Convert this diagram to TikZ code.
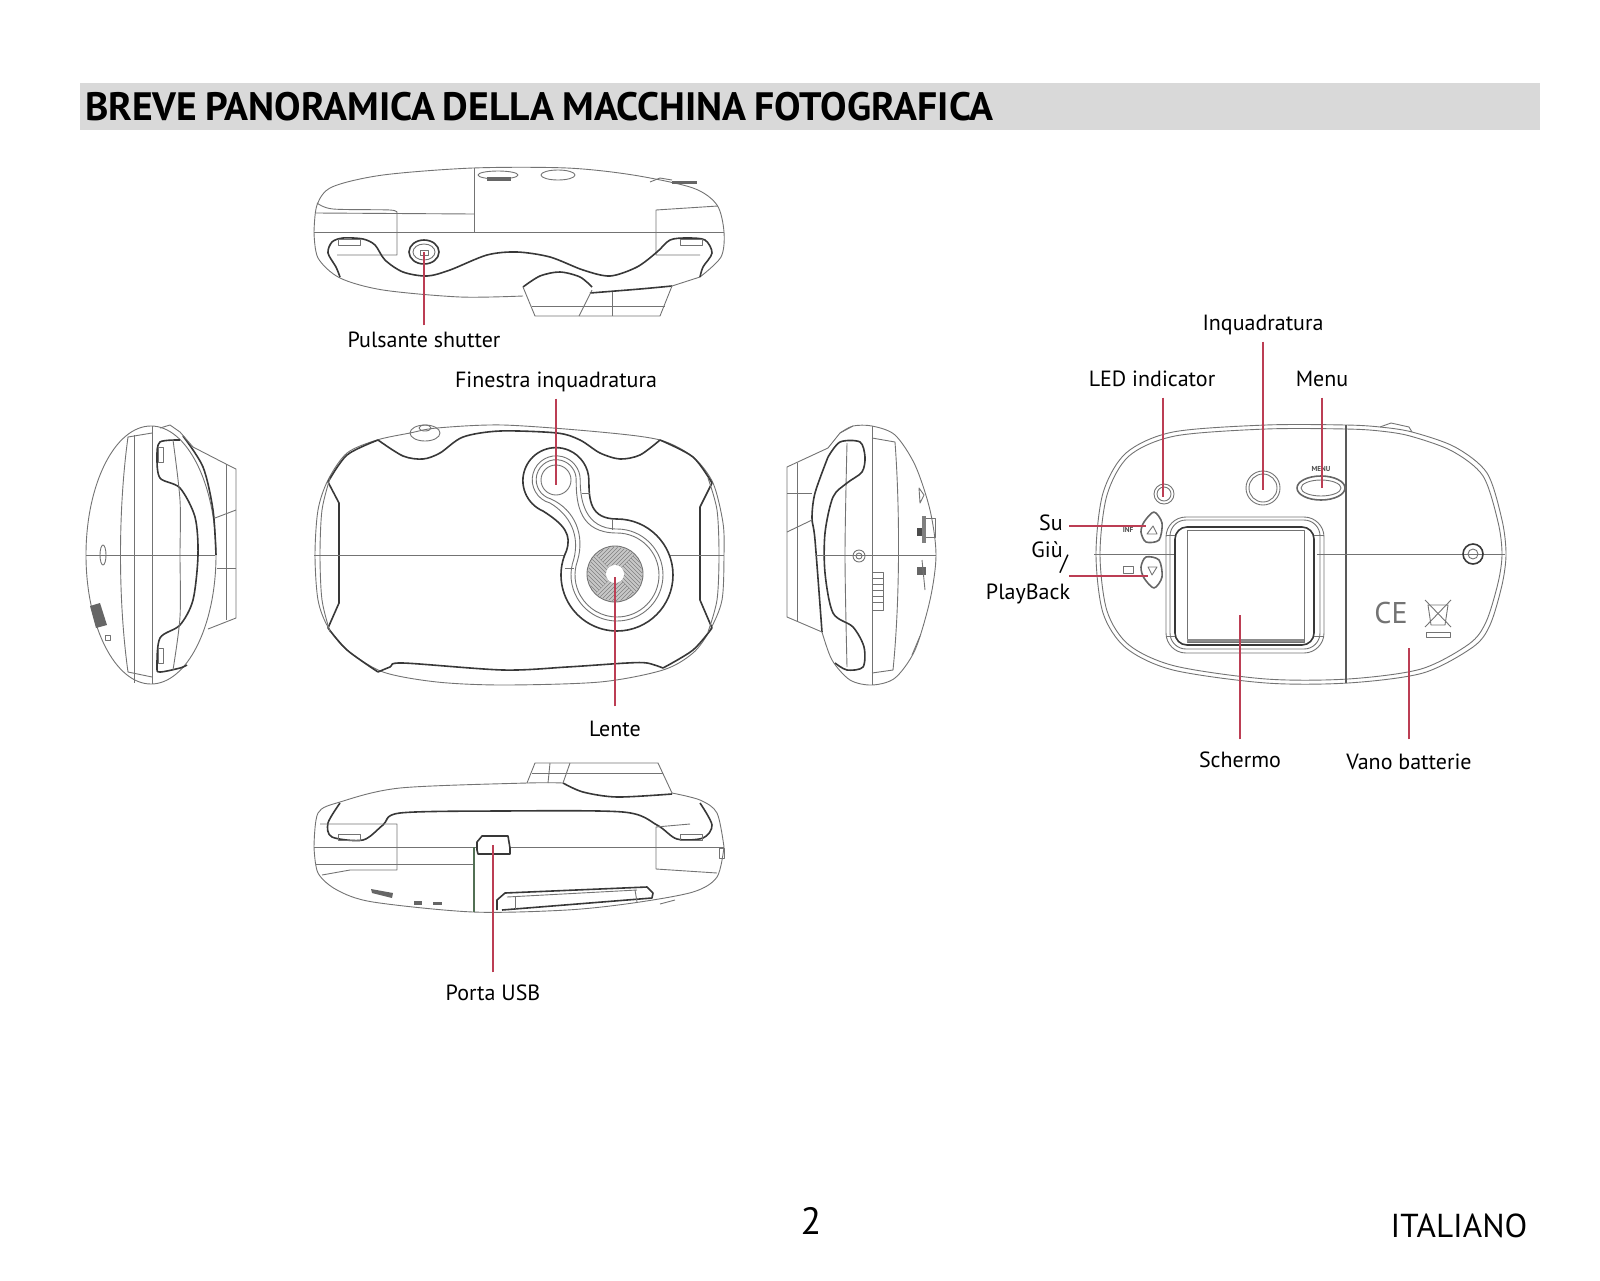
\documentclass[tikz,border=0pt]{standalone}
\usepackage{fontspec}
\setmainfont{PT Sans}
\usetikzlibrary{calc}
\newcommand{\pixelsize}{0.5pt}
\newcommand{\maketab}[2]{
	\draw[thinline] (#1,#2) rectangle ++(22,6);
}
\newcommand{\makering}[4]{
	\draw[thinline] (#1,#2) circle (#3);
	\draw[thinline] (#1,#2) circle (#4);
}
\definecolor{leadercolor}{RGB}{188,62,84}
\definecolor{bandcolor}{RGB}{217,217,217}
\definecolor{seamcolor}{RGB}{82,112,84}
\tikzset{
	thinline/.style={draw=black!55,line width=0.45pt,line join=round},
	heavyline/.style={draw=black!78,line width=0.8pt,line join=round},
	leader/.style={draw=leadercolor,line width=0.75pt},
	partlabel/.style={font=\fontsize{11}{13}\selectfont,inner sep=3pt,text height=8pt,text depth=2.2pt},
	marking/.style={font=\bfseries\fontsize{3.6}{4}\selectfont,text=black!70,inner sep=0pt},
	titlebar/.style={fill=bandcolor,minimum height=23.5pt,text width=725pt,inner xsep=2.5pt,inner ysep=0pt,font=\bfseries\fontsize{19.8}{22}\selectfont,align=left},
}
\begin{document}
\begin{tikzpicture}[x=\pixelsize,y=-\pixelsize]
	\useasboundingbox (0,0) rectangle (1600,1280);

	\node (titlebar) [titlebar] at (810,106.5) {\raisebox{-0.8pt}{\spaceskip=0.2em BREVE PANORAMICA DELLA MACCHINA FOTOGRAFICA}};
	\node (pagenum) [font=\fontsize{19}{22}\selectfont,inner sep=0pt] at (811,1221) {2};
	\node (language) [font=\fontsize{16.6}{20}\selectfont,inner sep=0pt] at (1459,1225.5) {ITALIANO};

	\draw[thinline] plot[smooth] coordinates {(314,232) (317,205) (332,187) (383,175) (473,168) (567,168) (633,175) (693,188) (717,205) (724,232) (721,257) (700,277)};
	\draw[thinline] plot[smooth] coordinates {(314,232) (318,258) (340,278) (383,290) (460,297) (523,296)};
	\draw[heavyline] plot[smooth] coordinates {(590,293) (640,289) (672,286)};
	\draw[thinline] (672,286) -- (700,277);
	\draw[thinline] (314,232) -- (724,232);
	\draw[thinline] (474,168) -- (474,232);
	\draw[thinline] (316,213) -- (474,214);
	\draw[thinline] plot[smooth] coordinates {(317,203) (333,209) (390,210) (397,213)} -- (397,255) -- (337,255);
	\draw[thinline] (718,206) -- (656,210) -- (656,255) -- (700,255);
	\draw[heavyline] plot[smooth] coordinates {(340,277) (336,267) (328,253) (332,242) (343,238) (363,239) (375,245) (385,260) (403,272) (427,276) (450,270) (487,255) (517,252) (550,257) (583,270) (610,276) (637,267) (657,252) (670,240) (687,238) (705,240) (712,253) (703,267) (700,277)};
	\maketab{338}{239}
	\maketab{680}{239}
	\draw[heavyline] (424,252) ellipse (15 and 12);
	\draw[thinline] (424,252) ellipse (11 and 8);
	\draw[thinline] (420,250) rectangle (428,255);
	\draw[heavyline] plot[smooth] coordinates {(523,287) (540,276) (560,272) (580,277) (592,287)};
	\draw[thinline] (523,287) -- (535,316) -- (660,316) -- (672,286);
	\draw[thinline] (592,290) -- (579,316);
	\draw[thinline] (612,292) -- (612,316);
	\draw[thinline] (532,306) -- (665,306);
	\draw[thinline] (498,175) ellipse (20 and 4);
	\fill[black!60] (487,177) rectangle (511,181);
	\draw[thinline] (558,175) ellipse (17 and 5);
	\draw[thinline] (650,182) -- (660,178) -- (672,180);
	\fill[black!60] (672,181) rectangle (697,184);

	\draw[thinline] (151,555) ellipse (65 and 129);
	\draw[heavyline] plot[smooth] coordinates {(183,436) (203,467) (213,510) (216,555)};
	\draw[thinline] (152,426) -- (152,684);
	\draw[thinline] (134,435) -- (134,683);
	\draw[thinline] (152,433) -- (128,437) .. controls (118,510) and (118,600) .. (128,672) -- (152,677);
	\draw[thinline] (86,555) -- (215,555);
	\draw[thinline] (103,555) ellipse (3 and 10);
	\draw[heavyline] plot[smooth] coordinates {(180,440) (160,442) (157,457) (160,478) (180,488) (195,517) (198,555) (193,600) (180,625) (160,638) (157,667) (160,672) (180,668) (187,665)};
	\draw[thinline] plot[smooth] coordinates {(173,440) (180,500) (180,555) (180,617) (173,670)};
	\draw[thinline] (158,447) rectangle (163,462);
	\draw[thinline] (158,648) rectangle (163,663);
	\draw[thinline] (193,447) -- (226,464) -- (236,469) -- (236,618) -- (208,629);
	\draw[thinline] (226,464) -- (226,620);
	\draw[thinline] (215,518) -- (236,510);
	\draw[thinline] (217,568) -- (236,568);
	\draw[thinline] (160,428) -- (170,425) -- (180,432) -- (193,447);
	\fill[black!60] (90,606) -- (100,603) -- (107,625) -- (96,628) -- cycle;
	\draw[thinline] (105,635) rectangle (110,640);

	\draw[thinline] plot[smooth cycle] coordinates {(315,555) (318,510) (328,480) (347,453) (377,440) (410,433) (437,428) (503,425) (600,432) (660,440) (693,457) (713,483) (723,523) (724,555) (722,600) (710,630) (693,653) (663,670) (600,682) (503,685) (437,682) (383,672) (347,650) (328,627) (318,600)};
	\draw[heavyline] plot[smooth] coordinates {(328,482) (347,455) (378,440)};
	\draw[heavyline] plot[smooth] coordinates {(378,440) (403,456) (423,459) (440,453) (463,437) (500,431) (557,433) (580,440) (600,453) (620,459) (640,455) (660,440)};
	\draw[heavyline] plot[smooth] coordinates {(660,440) (693,457) (712,483)} -- (700,507) -- (700,600) -- (712,628);
	\draw[heavyline] plot[smooth] coordinates {(712,628) (693,650) (663,668)};
	\draw[heavyline] plot[smooth] coordinates {(663,668) (647,663) (627,663) (567,667) (503,670) (403,663) (390,667) (378,672)};
	\draw[heavyline] plot[smooth] coordinates {(378,672) (347,650) (328,628)} -- (339,603) -- (339,503) -- (328,482);
	\draw[thinline] plot[smooth] coordinates {(330,478) (322,510) (320,555) (322,600) (330,632)};
	\draw[thinline] plot[smooth] coordinates {(708,478) (717,510) (719,555) (717,600) (708,632)};
	\draw[thinline] (425,433) ellipse (15 and 8);
	\draw[thinline] (425,428) ellipse (6 and 3);
	\draw[thinline] (314,555) -- (565,555);
	\draw[thinline] (670,555) -- (724,555);
	\draw[heavyline] (617,519) arc[start angle=-90,end angle=205,radius=56] .. controls (572,535) and (565,525) .. (543,511) arc[start angle=113,end angle=360,radius=33] .. controls (589,500) and (590,519) .. (617,519);
	\draw[thinline] (617,529) arc[start angle=-90,end angle=200,radius=46] .. controls (580,535) and (570,515) .. (550,503) arc[start angle=105,end angle=360,radius=24] .. controls (580,500) and (585,529) .. (617,529);
	\draw[thinline] (617,533) arc[start angle=-90,end angle=200,radius=42] .. controls (585,535) and (575,510) .. (551,499) arc[start angle=105,end angle=360,radius=20] .. controls (576,505) and (580,533) .. (617,533);
	\draw[thinline] (556,480) circle (15);
	\draw[thinline] (582,493) -- (590,493);
	\draw[thinline] (612,520) -- (612,530);
	\draw[thinline] (565,568) -- (574,568);
	\fill[black!22] (615,574) circle (28);
	\begin{scope}
	\clip (615,574) circle (27);
	\foreach \a in {0,90,180,270} {
		\begin{scope}[rotate around={\a:(615,574)}]
		\clip (615,574) -- (655,534) -- (655,614) -- cycle;
		\foreach \d in {-32,-28,...,32} {
			\draw[black!50,line width=0.3pt] (635+\d-30,544) -- (635+\d+30,604);
		}
		\end{scope}
	}
	\end{scope}
	\draw[thinline] (615,574) circle (28);
	\fill[white] (615,574) circle (9);

	\draw[thinline] plot[smooth] coordinates {(822,632) (832,660) (850,680) (872,685) (895,678) (915,650) (930,600) (936,555) (930,510) (915,465) (895,435) (872,426) (853,426) (840,433)};
	\draw[thinline] (872,426) -- (872,685);
	\draw[thinline] (872,438) -- (895,442) .. controls (900,510) and (900,600) .. (893,670) -- (872,673);
	\draw[thinline] plot[smooth] coordinates {(847,443) (845,555) (847,667)};
	\draw[heavyline] plot[smooth] coordinates {(828,457) (840,442) (860,442) (865,457) (862,472) (847,483) (833,497) (825,533) (825,573) (833,613) (853,627) (864,647) (863,667) (847,670) (835,663)};
	\draw[heavyline] plot[smooth] coordinates {(828,457) (815,493) (812,518) (815,540) (822,632)};
	\draw[thinline] (828,448) -- (787,467) -- (787,617) -- (822,632);
	\draw[thinline] (797,463) -- (797,622);
	\draw[thinline] (787,493) -- (812,493);
	\draw[thinline] (787,532) -- (812,520);
	\draw[thinline] (828,448) -- (840,433) -- (853,426);
	\draw[thinline] (815,555) -- (936,555);
	\makering{859}{556}{6}{3}
	\draw[thinline] (872,572) rectangle (883,610);
	\foreach \y in {578,584,...,604} {
		\draw[thinline] (872,\y) -- (883,\y);
	}
	\draw[thinline] (919,488) -- (924,495) -- (920,503) -- cycle;
	\fill[black!70] (917,528) rectangle (926,536);
	\fill[black!50] (922,516) rectangle (926,543);
	\draw[thinline] (926,518) -- (935,518) -- (935,537) -- (926,537);
	\fill[black!60] (917,567) rectangle (926,575);
	\draw[thinline] (922,560) -- (925,590);
	\draw[thinline] (912,655) -- (920,636);

	\draw[thinline] plot[smooth] coordinates {(314,847) (318,873) (337,890) (373,902) (473,912) (567,910) (633,903) (693,892) (717,877) (724,847)};
	\draw[thinline] plot[smooth] coordinates {(314,847) (318,813) (340,802) (400,788) (527,783) (563,783)};
	\draw[thinline] plot[smooth] coordinates {(672,793) (700,800) (717,813) (724,847)};
	\draw[thinline] (527,783) -- (535,763) -- (658,763) -- (672,793);
	\draw[heavyline] plot[smooth] coordinates {(563,783) (583,792) (617,797) (672,794)};
	\draw[thinline] (570,763) -- (563,783);
	\draw[thinline] (550,763) -- (548,783);
	\draw[thinline] (532,773) -- (663,773);
	\draw[heavyline] plot[smooth] coordinates {(340,803) (328,823) (332,837) (363,840) (383,825) (400,813) (500,811) (623,812) (657,825) (677,839) (703,838) (712,825) (700,803)};
	\maketab{338}{834}
	\maketab{680}{834}
	\draw[thinline] (314,847) -- (477,847);
	\draw[thinline] (510,847) -- (724,847);
	\draw[thinline] (316,864) -- (475,864);
	\draw[thinline] (320,824) -- (397,824) -- (397,870) -- (350,870) -- (322,875);
	\draw[thinline] (717,873) -- (656,869) -- (656,827) -- (690,824);
	\draw[seamcolor,line width=0.8pt] (474,847) -- (474,912);
	\draw[heavyline] (477,842) -- (482,836) -- (508,836) -- (510,848) -- (510,854) -- (478,854) -- (477,850) -- cycle;
	\draw[heavyline] (497,910) -- (497,900) -- (505,893) -- (647,887) -- (653,893) -- (652,898) -- (502,910);
	\draw[thinline] (507,897) -- (637,890);
	\draw[thinline] (515,897) -- (515,909);
	\draw[thinline] (635,890) -- (637,902);
	\fill[black!60] (371,889) -- (393,893) -- (392,898) -- (372,893) -- cycle;
	\fill[black!60] (414,901) rectangle (422,905);
	\fill[black!60] (433,902) rectangle (442,905);
	\draw[thinline] (660,904) -- (675,900);
	\draw[thinline] (719,848) rectangle (724,858);

	\draw[thinline] plot[smooth cycle] coordinates {(1096,554) (1103,493) (1126,453) (1173,432) (1266,425) (1346,425) (1380,427) (1412,432) (1455,447) (1487,473) (1502,520) (1506,554) (1502,585) (1490,625) (1473,647) (1423,673) (1348,683) (1266,683) (1173,670) (1126,648) (1103,613)};
	\draw[thinline] plot[smooth cycle] coordinates {(1100,554) (1107,495) (1129,456) (1175,436) (1266,429) (1346,429) (1380,431) (1410,436) (1452,451) (1483,476) (1498,522) (1502,554) (1498,583) (1486,622) (1469,644) (1421,669) (1348,679) (1266,679) (1175,666) (1129,645) (1107,611)};
	\draw[heavyline,draw=black!65] (1346,425) -- (1346,683);
	\draw[thinline] (1094,554) -- (1175,554);
	\draw[thinline] (1317,554) -- (1505,554);
	\draw[thinline] (1380,427) -- (1391,423) -- (1409,427) -- (1412,432);
	\makering{1164}{494}{10}{7}
	\draw[thinline] (1263,488) circle (17);
	\draw[thinline] (1263,488) circle (14);
	\draw[heavyline,draw=black!60] (1321,488) ellipse (24 and 12);
	\draw[thinline] (1321,488) ellipse (20 and 8);
	\node (menumark) [marking] at (1321,469) {MENU};
	\draw[heavyline,draw=black!60] plot[smooth cycle] coordinates {(1154,512) (1162,523) (1159,540) (1146,542) (1141,532) (1144,522)};
	\draw[thinline] (1153,526) -- (1157,534) -- (1147,534) -- cycle;
	\node (upmark) [marking] at (1128,530) {INF};
	\draw[heavyline,draw=black!60] plot[smooth cycle] coordinates {(1154,588) (1162,577) (1159,560) (1146,557) (1141,567) (1144,578)};
	\draw[thinline] (1148,567) -- (1157,567) -- (1152,575) -- cycle;
	\draw[thinline] (1123,566) rectangle (1133,573);
	\draw[thinline,rounded corners=10pt] (1166,517) rectangle (1324,653);
	\draw[thinline,rounded corners=8pt] (1170,520) rectangle (1320,649);
	\draw[heavyline,rounded corners=6pt] (1175,527) rectangle (1314,645);
	\draw[thinline] (1187,530) rectangle (1304,642);
	\fill[black!45] (1187,639) rectangle (1304,642);
	\draw[thinline] (1166,535) -- (1175,535);
	\draw[thinline] (1314,535) -- (1324,535);
	\draw[thinline] (1166,636) -- (1175,636);
	\draw[thinline] (1314,636) -- (1324,636);
	\draw[heavyline] (1473,554) circle (10);
	\draw[thinline] (1473,554) circle (5);
	\node (cemark) [font=\fontsize{15}{16}\selectfont,text=black!55,inner sep=0pt] at (1391,613) {CE};
	\draw[thinline] (1425,600) -- (1451,627);
	\draw[thinline] (1451,600) -- (1425,627);
	\draw[thinline] (1428,605) -- (1448,605) -- (1445,625) -- (1431,625) -- cycle;
	\draw[thinline] (1426,632) rectangle (1450,637);

	\coordinate (shutterpt) at (424,252);
	\coordinate (viewpt) at (556,485);
	\coordinate (lenspt) at (615,577);
	\coordinate (usbpt) at (493,845);
	\coordinate (ledpt) at (1163,497);
	\coordinate (framept) at (1263,490);
	\coordinate (menupt) at (1322,488);
	\coordinate (uppt) at (1146,526);
	\coordinate (downpt) at (1148,576);
	\coordinate (downstart) at (1069,576);
	\coordinate (screenpt) at (1240,615);
	\coordinate (batterypt) at (1409,648);

	\node (shutter) [partlabel] at (424,342) {Pulsante shutter};
	\node (viewfinder) [partlabel] at (556,382) {Finestra inquadratura};
	\node (lens) [partlabel] at (615,731) {Lente};
	\node (usb) [partlabel] at (493,995) {Porta USB};
	\node (frame) [partlabel] at (1263,325) {Inquadratura};
	\node (led) [partlabel] at (1152,381) {LED indicator};
	\node (menu) [partlabel] at (1322,381) {Menu};
	\node (up) [partlabel,anchor=east] at (1069,525) {Su};
	\node (down) [partlabel,anchor=east] at (1069,552) {Giù};
	\node (slash) [partlabel,anchor=center] at (1064,565) {/};
	\node (playback) [partlabel] at (1028,594) {PlayBack};
	\node (screen) [partlabel] at (1240,762) {Schermo};
	\node (battery) [partlabel] at (1409,764) {Vano batterie};

	\draw[leader] (shutter.north) -- (shutterpt);
	\draw[leader] (viewfinder.south) -- (viewpt);
	\draw[leader,shorten <=4pt] (lens.north) -- (lenspt);
	\draw[leader,shorten <=3pt] (usb.north) -- (usbpt);
	\draw[leader] (led.south -| ledpt) -- (ledpt);
	\draw[leader] (frame.south) -- (framept);
	\draw[leader] (menu.south) -- (menupt);
	\draw[leader] (up.east |- uppt) -- (uppt);
	\draw[leader] (downstart) -- (downpt);
	\draw[leader,shorten <=3pt] (screen.north) -- (screenpt);
	\draw[leader,shorten <=4pt] (battery.north) -- (batterypt);
\end{tikzpicture}
\end{document}
